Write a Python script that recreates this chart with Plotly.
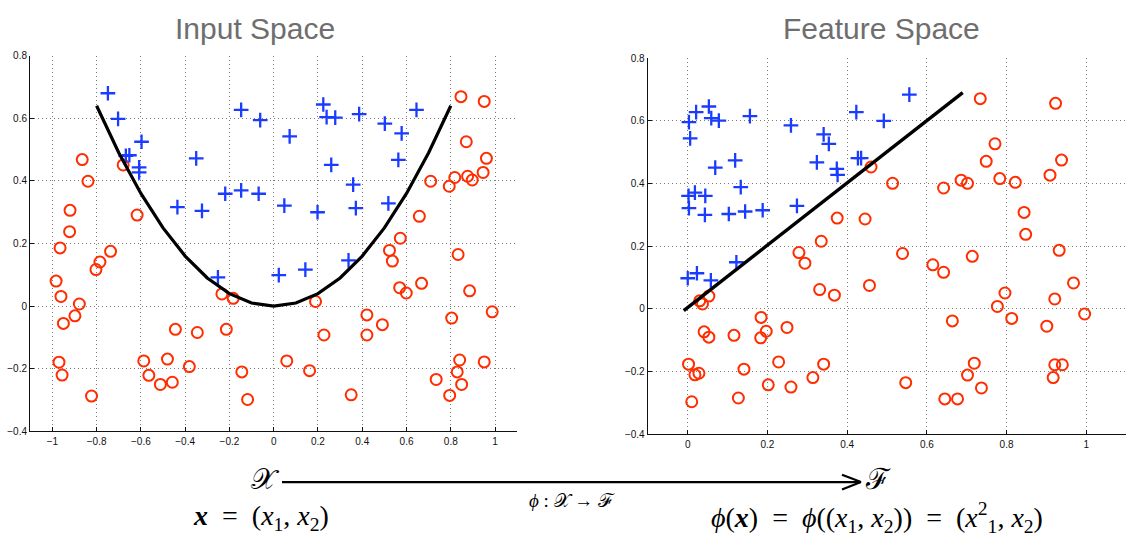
import plotly.graph_objects as go

W, H = 1131, 538

# ---------------- data: Input Space ----------------
in_pos_x = [-0.749, -0.703, -0.668, -0.652, -0.597, -0.608, -0.608, -0.350, -0.435, -0.324,
            -0.219, -0.147, -0.068, -0.147, -0.061, 0.072, 0.224, 0.239, 0.278, 0.386,
            0.502, 0.578, 0.645, 0.260, 0.563, 0.359, 0.048, 0.198, 0.371, 0.518,
            0.338, 0.143, 0.023, -0.252]
in_pos_y = [0.680, 0.598, 0.480, 0.482, 0.525, 0.443, 0.427, 0.472, 0.316, 0.304,
            0.359, 0.370, 0.359, 0.627, 0.594, 0.542, 0.644, 0.604, 0.602, 0.613,
            0.583, 0.552, 0.627, 0.451, 0.467, 0.388, 0.321, 0.300, 0.313, 0.328,
            0.146, 0.117, 0.099, 0.092]

in_neg_x = [-0.865, -0.839, -0.920, -0.922, -0.965, -0.737, -0.785, -0.803, -0.680, -0.617,
            0.846, 0.951, 0.870, 0.961, 0.709, 0.793, 0.818, 0.876, 0.897, 0.946,
            0.658, 0.572, 0.523, 0.536, 0.833,
            -0.983, -0.961, -0.878, -0.898, -0.950, -0.970, -0.956, -0.823, -0.587, -0.564,
            -0.512, -0.458, -0.480, -0.381, -0.444, -0.345, -0.234, -0.183, -0.214, -0.144,
            -0.118,
            0.569, 0.599, 0.668, 0.885, 0.189, 0.421, 0.491, 0.421, 0.227, 0.804,
            0.987, 0.059, 0.162, 0.350, 0.734, 0.840, 0.829, 0.849, 0.795, 0.951]
in_neg_y = [0.468, 0.399, 0.306, 0.238, 0.186, 0.175, 0.141, 0.117, 0.451, 0.291,
            0.669, 0.654, 0.525, 0.472, 0.399, 0.383, 0.411, 0.415, 0.403, 0.427,
            0.287, 0.217, 0.178, 0.144, 0.165,
            0.080, 0.031, 0.007, -0.031, -0.055, -0.179, -0.220, -0.287, -0.175, -0.221,
            -0.250, -0.243, -0.169, -0.193, -0.074, -0.084, 0.039, 0.025, -0.074, -0.210,
            -0.298,
            0.059, 0.042, 0.073, 0.049, 0.015, -0.028, -0.059, -0.092, -0.092, -0.038,
            -0.018, -0.175, -0.206, -0.283, -0.234, -0.172, -0.210, -0.250, -0.285, -0.178]

curve_x = [-0.8, -0.7, -0.6, -0.5, -0.4, -0.3, -0.2, -0.1, 0.0, 0.1, 0.2, 0.3, 0.4, 0.5, 0.6, 0.7, 0.8]
curve_y = [0.64, 0.49, 0.36, 0.25, 0.16, 0.09, 0.04, 0.01, 0.0, 0.01, 0.04, 0.09, 0.16, 0.25, 0.36, 0.49, 0.64]

# ---------------- data: Feature Space ----------------
ft_pos_x = [0.003, 0.006, 0.021, 0.053, 0.059, 0.078, 0.156, 0.259, 0.341, 0.354,
            0.324, 0.423, 0.492, 0.556, 0.427, 0.435, 0.374, 0.376, 0.119, 0.069,
            0.133, 0.002, 0.018, 0.044, 0.003, 0.043, 0.103, 0.144, 0.188, 0.274,
            0.000, 0.023, 0.058, 0.122]
ft_pos_y = [0.596, 0.544, 0.628, 0.646, 0.609, 0.601, 0.615, 0.586, 0.557, 0.527,
            0.468, 0.628, 0.600, 0.684, 0.481, 0.481, 0.447, 0.428, 0.474, 0.451,
            0.389, 0.361, 0.371, 0.361, 0.322, 0.300, 0.303, 0.311, 0.315, 0.329,
            0.098, 0.114, 0.091, 0.149]

ft_neg_x = [0.734, 0.923, 0.771, 0.749, 0.938, 0.783, 0.822, 0.909, 0.686, 0.702,
            0.642, 0.460, 0.514, 0.375, 0.445, 0.844, 0.848, 0.335,
            0.279, 0.294, 0.539, 0.615, 0.642, 0.714, 0.932, 0.968, 0.921, 0.996,
            0.796, 0.777, 0.813, 0.901, 0.664, 0.456, 0.331, 0.368, 0.053, 0.030,
            0.037, 0.041, 0.053, 0.116, 0.184, 0.183, 0.197, 0.249, 0.002, 0.018,
            0.028, 0.141, 0.228, 0.341, 0.314, 0.202, 0.259, 0.010, 0.127, 0.547,
            0.719, 0.702, 0.737, 0.645, 0.677, 0.921, 0.940, 0.917]
ft_neg_y = [0.671, 0.656, 0.527, 0.471, 0.475, 0.416, 0.404, 0.427, 0.411, 0.401,
            0.386, 0.453, 0.401, 0.290, 0.287, 0.308, 0.238, 0.216,
            0.180, 0.146, 0.177, 0.141, 0.117, 0.168, 0.187, 0.083, 0.032, -0.016,
            0.051, 0.008, -0.030, -0.055, -0.038, 0.075, 0.062, 0.044, 0.041, 0.026,
            0.016, -0.073, -0.090, -0.084, -0.027, -0.092, -0.071, -0.059, -0.176, -0.210,
            -0.205, -0.192, -0.169, -0.176, -0.219, -0.242, -0.249, -0.296, -0.284, -0.235,
            -0.173, -0.211, -0.252, -0.287, -0.287, -0.178, -0.178, -0.219]

line_x = [-0.01, 0.69]
line_y = [-0.005, 0.69]

in_xticks = [-1, -0.8, -0.6, -0.4, -0.2, 0, 0.2, 0.4, 0.6, 0.8, 1]
ft_xticks = [0, 0.2, 0.4, 0.6, 0.8, 1]
yticks = [-0.4, -0.2, 0, 0.2, 0.4, 0.6, 0.8]

BLUE = "rgb(25,60,255)"
RED = "rgb(255,45,0)"

plus = dict(symbol="cross-thin", size=10.5, line=dict(color=BLUE, width=2.3))
circ = dict(symbol="circle-open", size=11, color=RED, line=dict(color=RED, width=2))

fig = go.Figure()
fig.add_trace(go.Scatter(x=in_neg_x, y=in_neg_y, mode="markers", marker=circ, xaxis="x", yaxis="y"))
fig.add_trace(go.Scatter(x=in_pos_x, y=in_pos_y, mode="markers", marker=plus, xaxis="x", yaxis="y"))
fig.add_trace(go.Scatter(x=curve_x, y=curve_y, mode="lines", line=dict(color="black", width=3.2),
                         xaxis="x", yaxis="y"))
fig.add_trace(go.Scatter(x=ft_neg_x, y=ft_neg_y, mode="markers", marker=circ, xaxis="x2", yaxis="y2"))
fig.add_trace(go.Scatter(x=ft_pos_x, y=ft_pos_y, mode="markers", marker=plus, xaxis="x2", yaxis="y2"))
fig.add_trace(go.Scatter(x=line_x, y=line_y, mode="lines", line=dict(color="black", width=3.4),
                         xaxis="x2", yaxis="y2"))

tickfont = dict(family="Liberation Sans, Arial, sans-serif", size=10, color="#111")
axcommon = dict(showline=True, linecolor="#111", linewidth=1.4, ticks="inside", ticklen=4,
                tickcolor="#111", tickwidth=1, showgrid=True, gridcolor="#7a7a7a", gridwidth=1,
                griddash="1px,3px", zeroline=False, tickfont=tickfont, mirror=False, fixedrange=True)

def px(x):
    return x / W

def py(y):
    return 1 - y / H

fig.update_layout(
    width=W, height=H, margin=dict(l=0, r=0, t=0, b=0),
    paper_bgcolor="white", plot_bgcolor="white", showlegend=False,
    xaxis=dict(axcommon, domain=[px(30.2), px(517.2)], range=[-1.1, 1.1], anchor="y",
               tickvals=in_xticks),
    yaxis=dict(axcommon, domain=[py(434.3), py(50.7)], range=[-0.4, 0.8], anchor="x",
               tickvals=yticks),
    xaxis2=dict(axcommon, domain=[px(647.9), px(1126.1)], range=[-0.1, 1.1], anchor="y2",
                tickvals=ft_xticks),
    yaxis2=dict(axcommon, domain=[py(437.3), py(53.3)], range=[-0.4, 0.8], anchor="x2",
                tickvals=yticks),
)

title_font = dict(family="Liberation Sans, Arial, sans-serif", size=30, color="#6e6e6e")
math_font = dict(family="Liberation Serif, DejaVu Serif, serif", size=28, color="black")
sp = "&#8197;"   # quarter-em space
eq = "&#8194;=&#8194;"  # en-spaces around equals

annotations = [
    dict(text="Input Space", x=px(255), y=py(23), font=title_font),
    dict(text="Feature Space", x=px(881), y=py(23), font=title_font),
    dict(text="𝒳", x=px(265), y=py(483), font=dict(math_font, size=29)),
    dict(text="ℱ", x=px(878), y=py(483), font=dict(math_font, size=29)),
    dict(text="<i>ϕ</i>" + sp + ":" + sp + "𝒳" + sp + "→" + sp + "ℱ", x=px(572), y=py(505),
         font=dict(math_font, size=19)),
    dict(text="<b><i>x</i></b>" + eq + "(<i>x</i><sub>1</sub>," + sp + "<i>x</i><sub>2</sub>)",
         x=px(261), y=py(522), font=math_font),
    dict(text="<i>ϕ</i>(<b><i>x</i></b>)" + eq + "<i>ϕ</i>((<i>x</i><sub>1</sub>," + sp +
              "<i>x</i><sub>2</sub>))" + eq +
              "(<i>x</i><sup>2</sup><sub>1</sub>," + sp + "<i>x</i><sub>2</sub>)",
         x=px(877), y=py(522), font=math_font),
]
for a in annotations:
    a.update(xref="paper", yref="paper", showarrow=False, xanchor="center", yanchor="middle")
fig.update_layout(annotations=annotations)

shapes = [
    dict(type="line", x0=px(282), y0=py(486), x1=px(860), y1=py(486)),
    dict(type="line", x0=px(842), y0=py(478.5), x1=px(861), y1=py(486)),
    dict(type="line", x0=px(842), y0=py(493.5), x1=px(861), y1=py(486)),
]
for s in shapes:
    s.update(xref="paper", yref="paper", line=dict(color="black", width=2.2))
fig.update_layout(shapes=shapes)

fig.write_html("out.html", post_script="document.body.style.margin='0';",
               config={"displayModeBar": False})
